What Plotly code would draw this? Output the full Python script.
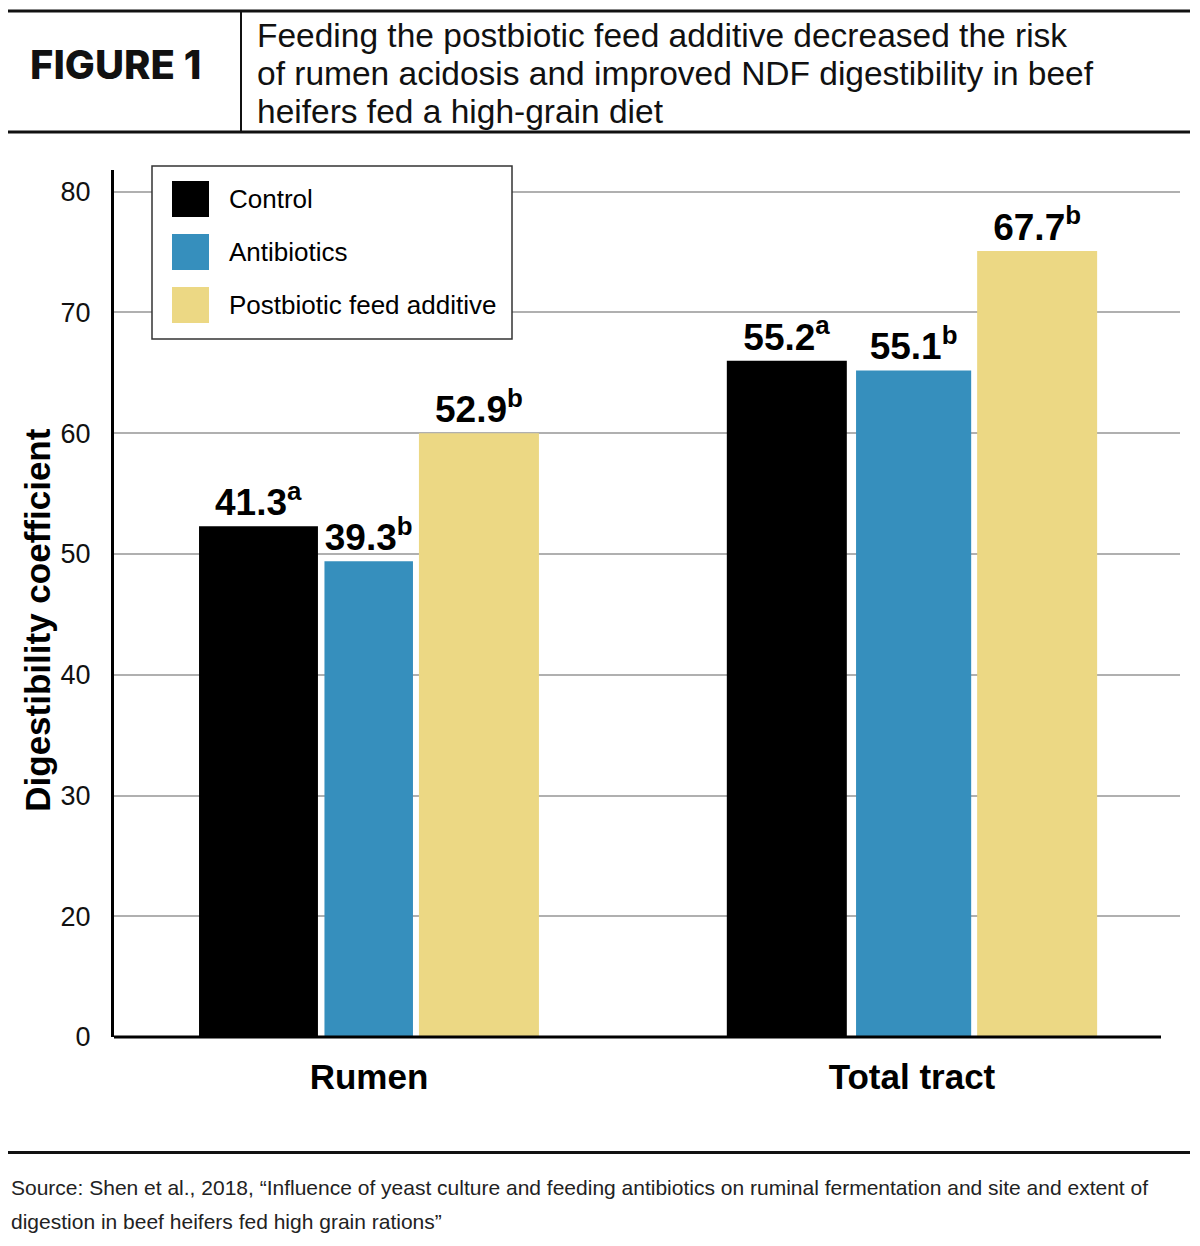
import plotly.graph_objects as go

# ---------------- data ----------------
categories = ["Rumen", "Total tract"]
series_names = ["Control", "Antibiotics", "Postbiotic feed additive"]
# bar heights on the plotted (internal) axis scale, as drawn
control_heights = [42.3, 56.0]
antibiotics_heights = [39.4, 55.2]
postbiotic_heights = [50.0, 65.1]
# printed value labels and significance letters
control_labels = ["41.3", "55.2"]
antibiotics_labels = ["39.3", "55.1"]
postbiotic_labels = ["52.9", "67.7"]
control_letters = ["a", "a"]
antibiotics_letters = ["b", "b"]
postbiotic_letters = ["b", "b"]
# y axis ticks (printed axis skips 10)
tick_values = [0, 10, 20, 30, 40, 50, 60, 70]
tick_labels = ["0", "20", "30", "40", "50", "60", "70", "80"]

title_lines = [
    "Feeding the postbiotic feed additive decreased the risk",
    "of rumen acidosis and improved NDF digestibility in beef",
    "heifers fed a high-grain diet",
]
figure_label = "FIGURE 1"
y_title = "Digestibility coefficient"
source_lines = [
    "Source: Shen et al., 2018, \u201cInfluence of yeast culture and feeding antibiotics on ruminal fermentation and site and extent of",
    "digestion in beef heifers fed high grain rations\u201d",
]

# ---------------- style ----------------
colors = ["#000000", "#368fbd", "#ecd884"]
bar_offset = [[-0.313, -0.341], [-0.082, -0.103], [0.092, 0.120]]
bar_width = [[0.219, 0.221], [0.163, 0.212], [0.221, 0.221]]
SANS = "Liberation Sans, Arial, Helvetica, sans-serif"

W, H = 1200, 1246
L, R, T, B = 114, 1180, 170, 1037.5


def px_x(px):
    return (px - L) / (R - L)


def px_y(py):
    return (B - py) / (B - T)


heights = [control_heights, antibiotics_heights, postbiotic_heights]
labels = [control_labels, antibiotics_labels, postbiotic_labels]
letters = [control_letters, antibiotics_letters, postbiotic_letters]

fig = go.Figure()
for i, name in enumerate(series_names):
    fig.add_trace(go.Bar(
        x=categories,
        y=heights[i],
        name=name,
        marker=dict(color=colors[i], line=dict(width=0)),
        offset=bar_offset[i],
        width=bar_width[i],
        text=[f"{v}<sup>{s}</sup>" for v, s in zip(labels[i], letters[i])],
        textposition="outside",
        textfont=dict(family=SANS, size=37, color="#000000", weight="bold"),
        constraintext="none",
        cliponaxis=False,
        showlegend=False,
        hoverinfo="skip",
    ))

shapes = []
annotations = []

# header rules
line_kw = dict(type="line", xref="paper", yref="paper", layer="above")
shapes.append(dict(line_kw, x0=px_x(8), x1=px_x(1190), y0=px_y(11), y1=px_y(11),
                   line=dict(color="#111", width=3)))
shapes.append(dict(line_kw, x0=px_x(8), x1=px_x(1190), y0=px_y(132), y1=px_y(132),
                   line=dict(color="#111", width=3)))
shapes.append(dict(line_kw, x0=px_x(241), x1=px_x(241), y0=px_y(12), y1=px_y(131),
                   line=dict(color="#111", width=2)))
# footer rule
shapes.append(dict(line_kw, x0=px_x(8), x1=px_x(1190), y0=px_y(1153), y1=px_y(1153),
                   line=dict(color="#111", width=3)))
# x axis line (stops short of gridlines)
shapes.append(dict(line_kw, x0=0, x1=px_x(1161), y0=0, y1=0,
                   line=dict(color="#000", width=3)))

annotations.append(dict(text=figure_label, x=px_x(115), y=px_y(64), xref="paper", yref="paper",
                        xanchor="center", yanchor="middle", showarrow=False,
                        font=dict(family="Inter, Roboto, sans-serif", size=40, color="#111", weight=800)))
for k, line in enumerate(title_lines):
    annotations.append(dict(text=line, x=px_x(255), y=px_y(35 + 38 * k), xref="paper", yref="paper",
                            xanchor="left", yanchor="middle", showarrow=False,
                            font=dict(family=SANS, size=33.5, color="#111")))
for k, line in enumerate(source_lines):
    annotations.append(dict(text=line, x=px_x(9), y=px_y(1188 + 34 * k), xref="paper", yref="paper",
                            xanchor="left", yanchor="middle", showarrow=False,
                            font=dict(family=SANS, size=21, color="#222")))

# y axis title
annotations.append(dict(text=y_title, x=px_x(38), y=px_y(621), xref="paper", yref="paper",
                        xanchor="center", yanchor="middle", textangle=-90, showarrow=False,
                        font=dict(family=SANS, size=35, color="#000", weight="bold")))

# manual legend
lg_left, lg_right, lg_top, lg_bottom = 152, 512, 166, 339
shapes.append(dict(type="rect", xref="paper", yref="paper", layer="above",
                   x0=px_x(lg_left), x1=px_x(lg_right), y0=px_y(lg_bottom), y1=px_y(lg_top),
                   fillcolor="#ffffff", line=dict(color="#333", width=1.5)))
for i, name in enumerate(series_names):
    cy = 199 + 53 * i
    shapes.append(dict(type="rect", xref="paper", yref="paper", layer="above",
                       x0=px_x(172), x1=px_x(209), y0=px_y(cy + 18), y1=px_y(cy - 18),
                       fillcolor=colors[i], line=dict(width=0)))
    annotations.append(dict(text=name, x=px_x(227), y=px_y(cy), xref="paper", yref="paper",
                            xanchor="left", yanchor="middle", showarrow=False,
                            font=dict(family=SANS, size=26, color="#000")))

fig.update_layout(
    width=W, height=H,
    margin=dict(l=L, r=W - R, t=T, b=H - B),
    paper_bgcolor="#ffffff", plot_bgcolor="#ffffff",
    barmode="overlay",
    shapes=shapes, annotations=annotations,
    xaxis=dict(type="category", categoryorder="array", categoryarray=categories,
               range=[-0.4696, 1.4936], showline=False, showgrid=False, zeroline=False,
               ticks="", tickfont=dict(family=SANS, size=35, color="#000", weight="bold"),
               ticklabelstandoff=16),
    yaxis=dict(range=[0, 71.8], tickmode="array", tickvals=tick_values, ticktext=tick_labels,
               showline=True, linecolor="#000", linewidth=3, zeroline=False,
               showgrid=True, gridcolor="#b0b0b0", gridwidth=2,
               ticks="", tickfont=dict(family=SANS, size=27, color="#111"),
               ticklabelstandoff=15),
    font=dict(family=SANS),
)

fig.write_html("out.html")
